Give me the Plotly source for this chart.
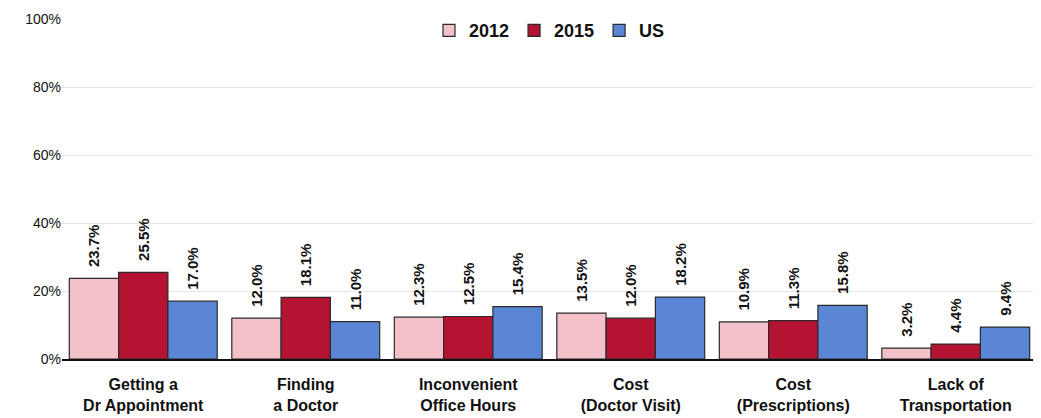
import plotly.graph_objects as go

categories = ["Getting a<br>Dr Appointment", "Finding<br>a Doctor", "Inconvenient<br>Office Hours",
              "Cost<br>(Doctor Visit)", "Cost<br>(Prescriptions)", "Lack of<br>Transportation"]
v2012 = [23.7, 12.0, 12.3, 13.5, 10.9, 3.2]
v2015 = [25.5, 18.1, 12.5, 12.0, 11.3, 4.4]
vus = [17.0, 11.0, 15.4, 18.2, 15.8, 9.4]
series = [("2012", v2012, "#F2C1C9"), ("2015", v2015, "#B51332"), ("US", vus, "#5B86D6")]

FONT = "Liberation Sans Narrow, Arial Narrow, Liberation Sans, Arial, sans-serif"

fig = go.Figure()
for name, vals, color in series:
    fig.add_trace(go.Bar(
        x=categories, y=vals, name=name,
        marker=dict(color=color, line=dict(color="#2a2a2a", width=1.2)),
        text=[f"\u00a0\u00a0{v:.1f}%" for v in vals], textposition="outside", textangle=-90,
        constraintext="none",
        textfont=dict(family=FONT, size=15, color="#111111", weight="bold"),
        cliponaxis=False,
    ))

fig.update_layout(
    width=1033, height=410,
    margin=dict(l=54, r=4, t=9, b=59),
    paper_bgcolor="white", plot_bgcolor="white",
    barmode="group", bargap=0.09, bargroupgap=0,
    font=dict(family=FONT, color="#111111"),
    legend=dict(orientation="h", x=0.5, xanchor="center", y=1.02, yanchor="top",
                font=dict(family=FONT, size=18, color="#111111", weight="bold"),
                itemwidth=30, traceorder="normal"),
)
fig.update_yaxes(range=[0, 100], dtick=20, ticksuffix="%", showgrid=True, gridcolor="#E6E6E6",
                 tickfont=dict(family=FONT, size=14, color="#111111"), zeroline=False,
                 ticks="", showline=False)
fig.update_xaxes(showline=True, linecolor="#111111", linewidth=1.5, ticks="",
                 ticklabelstandoff=10,
                 tickfont=dict(family=FONT, size=16, color="#111111", weight="bold"))

fig.write_html("out.html")
